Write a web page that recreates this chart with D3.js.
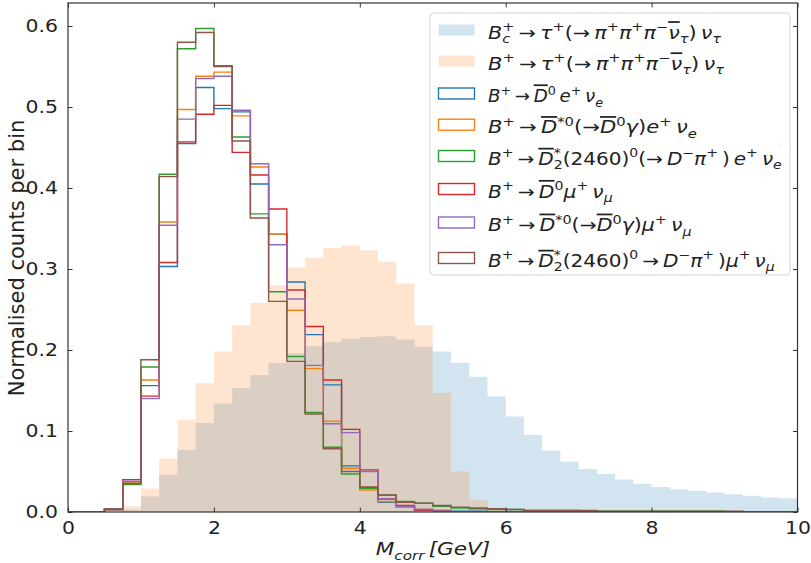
<!DOCTYPE html>
<html><head><meta charset="utf-8">
<script src="https://cdn.jsdelivr.net/npm/d3@7"></script>
<style>body{margin:0;background:#fff} svg{display:block} text{font-family:"DejaVu Sans",sans-serif}</style>
</head><body><svg id="c" width="811" height="563"></svg>
<script>
// ---------- data ----------
const binEdges = d3.range(0, 10.0001, 0.25);   // 40 bins of 0.25 GeV
const xTicks = [0, 2, 4, 6, 8, 10];
const xTickLabels = ["0", "2", "4", "6", "8", "10"];
const yTicks = [0, 0.1, 0.2, 0.3, 0.4, 0.5, 0.6];
const yTickLabels = ["0.0", "0.1", "0.2", "0.3", "0.4", "0.5", "0.6"];

// filled histograms
const bcTau = [0,0,0,0.003,0.019,0.046,0.077,0.110,0.134,0.153,0.169,0.184,0.196,0.205,0.210,0.214,0.216,0.217,0.213,0.204,0.198,0.184,0.167,0.143,0.118,0.095,0.076,0.062,0.053,0.047,0.040,0.035,0.031,0.028,0.026,0.024,0.022,0.020,0.018,0.017];
const buTau = [0,0,0,0.007,0.029,0.066,0.114,0.159,0.198,0.231,0.258,0.280,0.302,0.314,0.326,0.329,0.323,0.309,0.282,0.231,0.147,0.050,0.015,0.005,0.002,0.001,0,0,0,0,0,0,0,0,0,0,0,0,0,0];
// step histograms
const d0E     = [0,0,0.004,0.036,0.156,0.303,0.455,0.524,0.498,0.494,0.405,0.343,0.284,0.219,0.157,0.057,0.030,0.012,0.006,0.003,0.002,0.001,0.001,0,0,0,0,0,0,0,0,0,0,0,0,0,0,0,0,0];
const dstarE  = [0,0,0.003,0.037,0.163,0.358,0.497,0.538,0.543,0.489,0.426,0.343,0.249,0.177,0.112,0.054,0.027,0.013,0.006,0.003,0.001,0,0,0,0,0,0,0,0,0,0,0,0,0,0,0,0,0,0,0];
const d2E     = [0,0,0.003,0.034,0.179,0.417,0.572,0.597,0.551,0.463,0.368,0.272,0.192,0.123,0.080,0.047,0.029,0.021,0.013,0.011,0.007,0.005,0.004,0.003,0.003,0.002,0.002,0.002,0.001,0.001,0.001,0.001,0.001,0.001,0.001,0.001,0,0,0,0];
const d0Mu    = [0,0,0.003,0.040,0.143,0.308,0.457,0.491,0.502,0.444,0.416,0.374,0.274,0.229,0.163,0.102,0.052,0.016,0.008,0.002,0.001,0,0,0,0,0,0,0,0,0,0,0,0,0,0,0,0,0,0,0];
const dstarMu = [0,0,0.003,0.038,0.140,0.354,0.485,0.535,0.538,0.496,0.430,0.330,0.263,0.181,0.109,0.098,0.050,0.016,0.007,0.003,0.001,0,0,0,0,0,0,0,0,0,0,0,0,0,0,0,0,0,0,0];
const d2Mu    = [0,0,0.003,0.035,0.188,0.414,0.580,0.592,0.550,0.458,0.363,0.260,0.186,0.121,0.078,0.050,0.031,0.021,0.012,0.011,0.008,0.006,0.005,0.004,0.003,0.002,0.002,0.002,0.002,0.001,0.001,0.001,0.001,0.001,0.001,0.001,0.001,0,0,0];

const filledSeries = [bcTau, buTau];
const filledColors = ["#1f77b4", "#ff7f0e"];
const stepSeries = [d0E, dstarE, d2E, d0Mu, dstarMu, d2Mu];
const stepColors = ["#1f77b4", "#ff7f0e", "#2ca02c", "#d62728", "#9467bd", "#8c564b"];

// legend labels as mathtext segments: [text, flags] i=italic p=superscript b=subscript o=overline s=stack on previous
const A = "\u2009\u2192\u2009";
const legendLabels = [
  [["B","i"],["+","p"],["c","bis"],[A,""],["τ","i"],["+","p"],["(\u2192\u2009",""],["π","i"],["+","p"],["π","i"],["+","p"],["π","i"],["\u2212","p"],["ν","io"],["τ","ib"],[")\u2009",""],["ν","i"],["τ","ib"]],
  [["B","i"],["+","p"],[A,""],["τ","i"],["+","p"],["(\u2192\u2009",""],["π","i"],["+","p"],["π","i"],["+","p"],["π","i"],["\u2212","p"],["ν","io"],["τ","ib"],[")\u2009",""],["ν","i"],["τ","ib"]],
  [["B","i"],["+","p"],[A,""],["D","io"],["0","p"],["\u2009",""],["e","i"],["+","p"],["\u2009",""],["ν","i"],["e","ib"]],
  [["B","i"],["+","p"],[A,""],["D","io"],["*0","p"],["(\u2192",""],["D","io"],["0","p"],["γ","i"],[")",""],["e","i"],["+","p"],["\u2009",""],["ν","i"],["e","ib"]],
  [["B","i"],["+","p"],[A,""],["D","io"],["*","p"],["2","bs"],["(2460)",""],["0","p"],["(\u2192\u2009",""],["D","i"],["\u2212","p"],["π","i"],["+","p"],["\u2009)\u2009",""],["e","i"],["+","p"],["\u2009",""],["ν","i"],["e","ib"]],
  [["B","i"],["+","p"],[A,""],["D","io"],["0","p"],["μ","i"],["+","p"],["\u2009",""],["ν","i"],["μ","ib"]],
  [["B","i"],["+","p"],[A,""],["D","io"],["*0","p"],["(\u2192",""],["D","io"],["0","p"],["γ","i"],[")",""],["μ","i"],["+","p"],["\u2009",""],["ν","i"],["μ","ib"]],
  [["B","i"],["+","p"],[A,""],["D","io"],["*","p"],["2","bs"],["(2460)",""],["0","p"],[A,""],["D","i"],["\u2212","p"],["π","i"],["+","p"],["\u2009)",""],["μ","i"],["+","p"],["\u2009",""],["ν","i"],["μ","ib"]]
];

// ---------- drawing ----------
const L = 68, R = 797.5, T = 3, B = 512;
const svg = d3.select("#c");
const x = d3.scaleLinear().domain([0, 10]).range([L, R]);
const y = d3.scaleLinear().domain([0, 0.6284]).range([B, T]);

function stepPath(vals) {
  const p = d3.path();
  p.moveTo(x(binEdges[0]), y(0));
  vals.forEach((v, i) => { p.lineTo(x(binEdges[i]), y(v)); p.lineTo(x(binEdges[i + 1]), y(v)); });
  p.lineTo(x(binEdges[binEdges.length - 1]), y(0));
  return p.toString();
}

const plot = svg.append("g");
plot.append("defs").append("clipPath").attr("id", "clip").append("rect")
  .attr("x", L).attr("y", T).attr("width", R - L).attr("height", B - T);
const pg = plot.append("g").attr("clip-path", "url(#clip)");
filledSeries.forEach((s, k) => {
  pg.append("path").attr("d", stepPath(s) + "Z").attr("fill", filledColors[k]).attr("fill-opacity", 0.2).attr("stroke", "none");
});
stepSeries.forEach((s, k) => {
  pg.append("path").attr("d", stepPath(s)).attr("fill", "none").attr("stroke", stepColors[k]).attr("stroke-width", 1.4).attr("stroke-linejoin", "miter");
});

// axes (ticks inward on all four sides)
const SX = 1.2; // horizontal glyph stretch of the reference
const axB = svg.append("g").attr("transform", `translate(0,${B})`)
  .call(d3.axisBottom(x).tickValues(xTicks).tickFormat((d, i) => xTickLabels[i]).tickSizeInner(-4.5).tickSizeOuter(0).tickPadding(10));
const axT = svg.append("g").attr("transform", `translate(0,${T})`)
  .call(d3.axisTop(x).tickValues(xTicks).tickFormat("").tickSizeInner(-4.5).tickSizeOuter(0));
const axL = svg.append("g").attr("transform", `translate(${L},0)`)
  .call(d3.axisLeft(y).tickValues(yTicks).tickFormat((d, i) => yTickLabels[i]).tickSizeInner(-4.5).tickSizeOuter(0).tickPadding(7));
const axR = svg.append("g").attr("transform", `translate(${R},0)`)
  .call(d3.axisRight(y).tickValues(yTicks).tickFormat("").tickSizeInner(-4.5).tickSizeOuter(0));
[axB, axT, axL, axR].forEach(a => {
  a.select(".domain").remove();
  a.selectAll(".tick line").attr("stroke", "#333").attr("stroke-width", 1);
  a.selectAll("text").attr("font-size", 17).attr("fill", "#222").attr("font-family", "DejaVu Sans");
});
axB.selectAll(".tick text").attr("transform", `scale(${SX},1)`);
axL.selectAll(".tick text").attr("transform", `scale(${SX},1)`).attr("x", -10 / SX).attr("dy", "0.35em");
svg.append("rect").attr("x", L).attr("y", T).attr("width", R - L).attr("height", B - T)
  .attr("fill", "none").attr("stroke", "#333").attr("stroke-width", 1.2);

// axis labels
svg.append("text").attr("transform", `translate(24,258) rotate(-90)`)
  .attr("text-anchor", "middle").attr("font-size", 21).attr("fill", "#222").text("Normalised counts per bin");

function mathText(g, segs, fs) {
  const t = g.append("text").attr("font-size", fs).attr("fill", "#222");
  let cur = 0, prevLen = 0, pending = 0;
  segs.forEach((sg) => {
    const [txt, f] = sg;
    const sup = f.includes("p"), sub = f.includes("b");
    const target = sup ? -0.42 * fs : sub ? 0.28 * fs : 0;
    const ts = t.append("tspan").text(txt)
      .attr("font-size", (sup || sub) ? fs * 0.7 : fs)
      .attr("font-style", f.includes("i") ? "italic" : "normal")
      .attr("dy", target - cur);
    if (f.includes("o")) ts.style("text-decoration", "overline");
    cur = target;
    let dx = pending; pending = 0;
    if (f.includes("s")) dx -= prevLen;
    if (dx) ts.attr("dx", dx);
    const len = ts.node().getComputedTextLength();
    if (f.includes("s") && prevLen > len) pending = prevLen - len;
    prevLen = len;
  });
  return t;
}

const xl = svg.append("g").attr("transform", `translate(433,555) scale(${SX},1)`);
const xlt = mathText(xl, [["M", "i"], ["corr", "ib"], ["\u2009[GeV]", "i"]], 18);
xlt.attr("text-anchor", "middle");

// legend
const legendRowsY = [30, 61, 93.5, 124.7, 156, 189, 222.5, 258];
const legendRowsEnd = [722, 725, 603, 697, 782, 613, 692, 775];
const lg = svg.append("g");
lg.append("rect").attr("x", 430).attr("y", 13).attr("width", 360).attr("height", 262).attr("rx", 4)
  .attr("fill", "#fff").attr("fill-opacity", 0.8).attr("stroke", "#d5d5d5").attr("stroke-width", 1);
const patchColors = filledColors.concat(stepColors);
legendLabels.forEach((lab, i) => {
  const cy = legendRowsY[i];
  const filled = i < 2;
  lg.append("rect").attr("x", 438.5).attr("y", cy - 5.5).attr("width", 36).attr("height", 11)
    .attr("fill", filled ? patchColors[i] : "none").attr("fill-opacity", filled ? 0.2 : 0)
    .attr("stroke", filled ? "none" : patchColors[i]).attr("stroke-width", 1.4);
  const g = lg.append("g");
  const t = mathText(g, lab, 17.5);
  const w = t.node().getBBox().width;
  const sx = (legendRowsEnd[i] - 488) / w;
  g.attr("transform", `translate(488,${cy + 8.5}) scale(${sx},1)`);
});
</script></body></html>
